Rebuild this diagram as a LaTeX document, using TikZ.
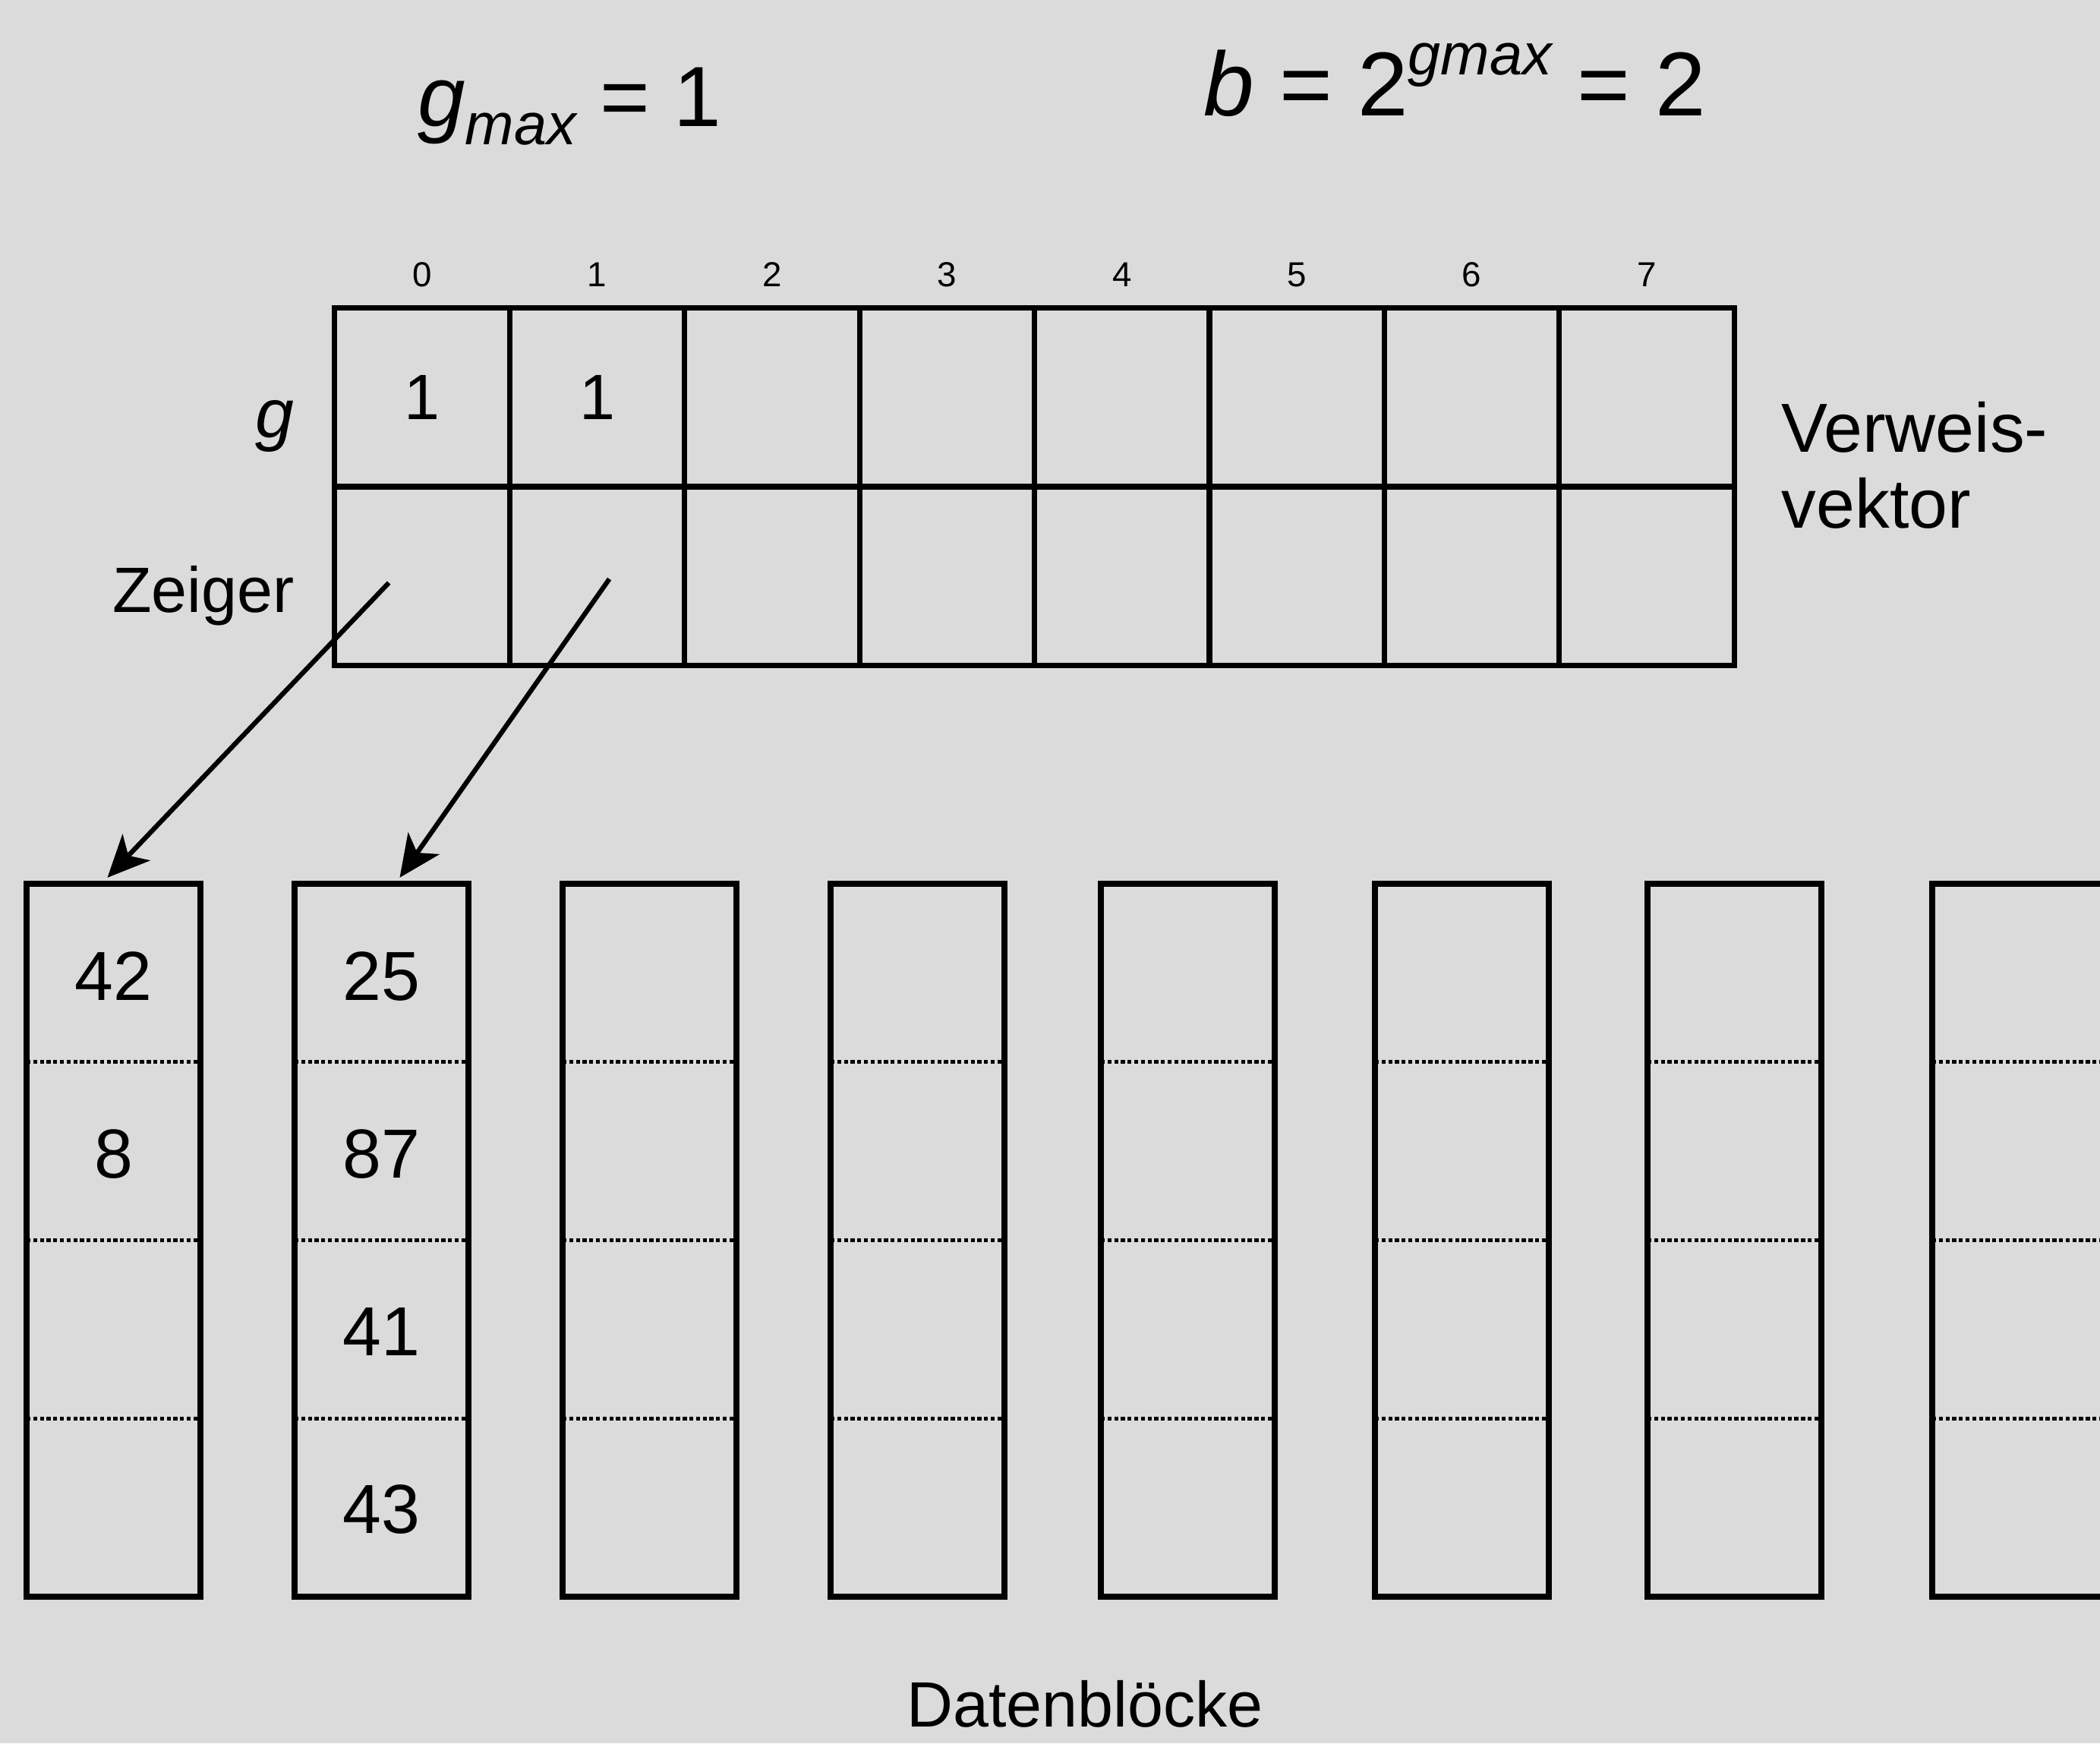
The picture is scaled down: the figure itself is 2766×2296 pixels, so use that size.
\documentclass[tikz,border=0pt]{standalone}
\usepackage{fontspec}
\setmainfont{Liberation Sans}
\usetikzlibrary{arrows.meta}
\begin{document}
\begin{tikzpicture}[x=0.01cm,y=-0.01cm,
  cell/.style={draw,line width=2pt,minimum width=2.304cm,minimum height=2.35cm,inner sep=0pt,anchor=center},
  blockbox/.style={draw,line width=2.2pt,minimum width=2.29cm,minimum height=9.39cm,inner sep=0pt,anchor=center},
  divider/.style={line width=1.5pt,densely dotted},
  idx/.style={font=\fontsize{13}{15}\selectfont,inner sep=0pt},
  gval/.style={font=\fontsize{24}{28}\selectfont,inner sep=0pt},
  dval/.style={font=\fontsize{26}{30}\selectfont,inner sep=0pt},
  lbl/.style={font=\fontsize{24}{28}\selectfont,inner sep=0pt},
  arr/.style={line width=1.8pt,-{Stealth[length=0.55cm,width=0.5cm,inset=0.15cm]}}]
\fill[black!14] (0,0) rectangle (2766,2296);
\useasboundingbox (0,0) rectangle (2766,2296);
\clip (0,0) rectangle (2766,2296);
% formulas
\node[inner sep=0pt,font=\fontsize{32}{36}\selectfont] (gmax) at (750,140)
  {\itshape g\raisebox{-0.4ex}{\fontsize{22}{24}\selectfont max}\upshape{} = 1};
\node[inner sep=0pt,font=\fontsize{34}{38}\selectfont] (bform) at (1916,105)
  {\itshape b\upshape{} = 2\raisebox{0.85ex}{\fontsize{22}{24}\selectfont\itshape gmax}\upshape{} = 2};
% pointer vector
\foreach \i in {0,...,7}{
  \node[cell] (g\i) at ({441+230.4*(\i+0.5)},523.5) {};
  \node[cell] (z\i) at ({441+230.4*(\i+0.5)},758.5) {};
  \node[idx] (i\i) at ({441+230.4*(\i+0.5)},362) {\i};
}
\node[gval] (v0) at (g0.center) {1};
\node[gval] (v1) at (g1.center) {1};
\node[lbl,font=\fontsize{26}{30}\selectfont\itshape] (glab) at (362,561) {g};
\node[lbl] (zlab) at (268,785) {Zeiger};
\node[inner sep=0pt,anchor=west,align=left,font=\fontsize{26}{28.5}\selectfont] (vv) at (2346,613) {Verweis-\\vektor};
% data blocks
\foreach \i/\l in {0/35,1/388,2/741,3/1094,4/1450,5/1811,6/2170,7/2545}{
  \node[blockbox] (b\i) at ({\l+114.5},1633.5) {};
  \foreach \k in {1,2,3}{
    \draw[divider] ({\l},{1164+234.75*\k}) -- ({\l+229},{1164+234.75*\k});
  }
}
\node[dval] (d00) at (149.5,1286) {42};
\node[dval] (d01) at (149.5,1520) {8};
\node[dval] (d10) at (502.5,1286) {25};
\node[dval] (d11) at (502.5,1520) {87};
\node[dval] (d12) at (502.5,1754) {41};
\node[dval] (d13) at (502.5,1988) {43};
\node[lbl] (dlab) at (1429,2244) {Datenblöcke};
% pointers
\draw[arr] ([shift={(-44,9)}]z0.center) -- ([shift={(-8,-4)}]b0.north);
\draw[arr] ([shift={(16,4)}]z1.center) -- ([shift={(24,-4)}]b1.north);
\end{tikzpicture}
\end{document}
